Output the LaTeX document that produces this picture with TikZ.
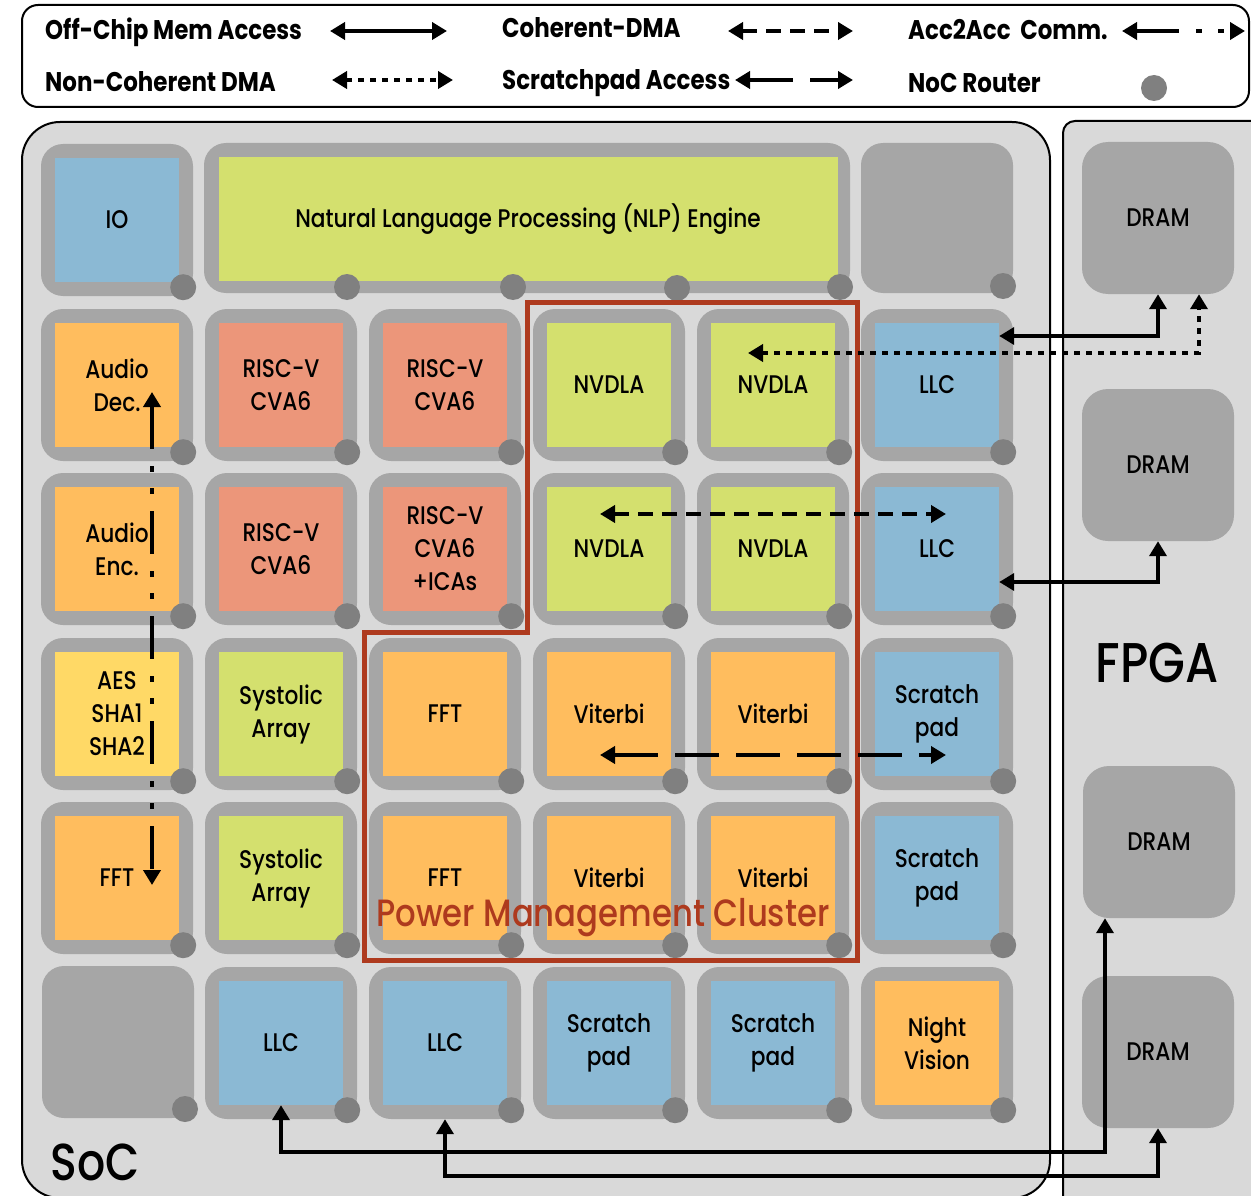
\documentclass[tikz,border=0pt]{standalone}
\usepackage{fontspec}
\setmainfont{Poppins}[FakeStretch=0.85, UprightFont=* Medium, BoldFont=* Bold]
\usetikzlibrary{arrows.meta,calc}
\definecolor{bg}{HTML}{D9D9D9}
\definecolor{tilegray}{HTML}{A6A6A6}
\definecolor{routergray}{HTML}{808080}
\definecolor{cblue}{HTML}{8BB9D4}
\definecolor{cgreen}{HTML}{D4E06E}
\definecolor{corange}{HTML}{FFBD5E}
\definecolor{csalmon}{HTML}{EC967A}
\definecolor{cyellow}{HTML}{FFD966}
\definecolor{cred}{HTML}{AE3A1E}
\newcommand{\tilefont}{\fontsize{25.5}{33}\selectfont}
\newcommand{\legendfont}{\fontsize{27}{30}\selectfont\bfseries}
\newcommand{\socfont}{\fontsize{52}{60}\selectfont}
\newcommand{\fpgafont}{\fontsize{56}{60}\selectfont}
\newcommand{\pmfont}{\fontsize{38}{42}\selectfont}
\tikzset{
 outer/.style={fill=tilegray, rounded corners=22pt, minimum width=152pt, minimum height=152pt, inner sep=0pt},
 inner/.style={minimum width=124pt, minimum height=124pt, inner sep=0pt, align=center, font=\tilefont},
 router/.style={circle, fill=routergray, minimum size=26pt, inner sep=0pt},
 dram/.style={fill=tilegray, rounded corners=26pt, minimum width=152pt, minimum height=152pt, inner sep=0pt, font=\tilefont},
 conn/.style={line width=4.5pt, {Triangle[length=15pt,width=17pt]}-{Triangle[length=15pt,width=17pt]}},
 offchip/.style={conn},
 ncdma/.style={conn, dash pattern=on 6pt off 6pt},
 cdma/.style={conn, dash pattern=on 15pt off 9pt},
 spad/.style={conn, dash pattern=on 44pt off 17pt},
 acc/.style={conn, dash pattern=on 43pt off 17pt on 6pt off 16pt on 6pt off 17pt},
 legend/.style={font=\legendfont, anchor=base west, inner sep=0pt},
 box/.style={draw=black, line width=2pt},
}
\newcommand{\mktile}[5]{%
 \node[outer] (#1o) at (#2,#3) {};
 \node[inner, fill=#4] (#1) at (#2,#3) {#5};
 \node[router] (#1r) at ([xshift=-10pt,yshift=9pt]#1o.south east) {};
}
\begin{document}
\begin{tikzpicture}[x=1pt,y=-1pt]
\useasboundingbox (0,0) rectangle (1251,1196);
\clip (0,0) rectangle (1251,1196);
\fill[white] (0,0) rectangle (1251,1196);

% legend
\draw[box, rounded corners=16pt] (22,5) rectangle (1249,107);
\node[legend] (l1) at (45,40) {Off-Chip Mem Access};
\node[legend] (l2) at (502,38) {Coherent-DMA};
\node[legend] (l3) at (908,40) {Acc2Acc\ \ Comm.};
\node[legend] (l4) at (45,92) {Non-Coherent DMA};
\node[legend] (l5) at (502,90) {Scratchpad Access};
\node[legend] (l6) at (908,93) {NoC Router};
\coordinate (a1s) at (330,31); \coordinate (a1e) at (447,31);
\coordinate (a2s) at (728,31); \coordinate (a2e) at (853,31);
\coordinate (a3s) at (1122,31); \coordinate (a3e) at (1245,31);
\coordinate (a4s) at (332,80); \coordinate (a4e) at (453,80);
\coordinate (a5s) at (735,80); \coordinate (a5e) at (853,80);
\draw[offchip] (a1s) -- (a1e);
\draw[cdma] (a2s) -- (a2e);
\draw[acc] (a3s) -- (a3e);
\draw[ncdma] (a4s) -- (a4e);
\draw[spad] (a5s) -- (a5e);
\node[router] (lr) at (1154,88) {};

% boxes
\draw[box, fill=bg, rounded corners=38pt] (22,122) rectangle (1050,1198);
\draw[box, fill=bg, rounded corners=12pt] (1063,121) rectangle (1280,1220);

% row 1
\mktile{io}{117}{220}{cblue}{IO}
\node[outer, minimum width=646pt, minimum height=150pt] (nlpo) at (527,218) {};
\node[inner, fill=cgreen, minimum width=619pt] (nlp) at (528,219) {Natural Language Processing (NLP) Engine};
\node[router] (nlpr1) at (347,287) {};
\node[router] (nlpr2) at (513,287) {};
\node[router] (nlpr3) at (677,288) {};
\node[router] (nlpr4) at (840,287) {};
\node[outer, minimum height=150pt] (e16o) at (937,218) {};
\node[router] (e16r) at (1003,286) {};

% row 2
\mktile{ad}{117}{385}{corange}{Audio\\Dec.}
\mktile{rv22}{281}{385}{csalmon}{RISC-V\\CVA6}
\mktile{rv23}{445}{385}{csalmon}{RISC-V\\CVA6}
\mktile{nv24}{609}{385}{cgreen}{NVDLA}
\mktile{nv25}{773}{385}{cgreen}{NVDLA}
\mktile{llc2}{937}{385}{cblue}{LLC}

% row 3
\mktile{ae}{117}{549}{corange}{Audio\\Enc.}
\mktile{rv32}{281}{549}{csalmon}{RISC-V\\CVA6}
\mktile{rv33}{445}{549}{csalmon}{RISC-V\\CVA6\\+ICAs}
\mktile{nv34}{609}{549}{cgreen}{NVDLA}
\mktile{nv35}{773}{549}{cgreen}{NVDLA}
\mktile{llc3}{937}{549}{cblue}{LLC}

% row 4
\mktile{aes}{117}{714}{cyellow}{AES\\SHA1\\SHA2}
\mktile{sa42}{281}{714}{cgreen}{Systolic\\Array}
\mktile{fft43}{445}{714}{corange}{FFT}
\mktile{vit44}{609}{714}{corange}{Viterbi}
\mktile{vit45}{773}{714}{corange}{Viterbi}
\mktile{sp46}{937}{714}{cblue}{Scratch\\pad}

% row 5
\mktile{fft51}{117}{878}{corange}{FFT}
\mktile{sa52}{281}{878}{cgreen}{Systolic\\Array}
\mktile{fft53}{445}{878}{corange}{FFT}
\mktile{vit54}{609}{878}{corange}{Viterbi}
\mktile{vit55}{773}{878}{corange}{Viterbi}
\mktile{sp56}{937}{878}{cblue}{Scratch\\pad}

% row 6
\node[outer] (e61o) at (118,1042) {};
\node[router] (e61r) at (185,1109) {};
\mktile{llc62}{281}{1043}{cblue}{LLC}
\mktile{llc63}{445}{1043}{cblue}{LLC}
\mktile{sp64}{609}{1043}{cblue}{Scratch\\pad}
\mktile{sp65}{773}{1043}{cblue}{Scratch\\pad}
\mktile{nv66}{937}{1043}{corange}{Night\\Vision}

% DRAMs
\node[dram] (dram1) at (1158,218) {DRAM};
\node[dram] (dram2) at (1158,465) {DRAM};
\node[dram] (dram3) at (1159,842) {DRAM};
\node[dram] (dram4) at (1158,1052) {DRAM};

% power management cluster
\draw[cred, line width=5pt] (527,302) -- (857,302) -- (857,960) -- (364,960) -- (364,632) -- (527,632) -- cycle;

% connectors
\draw[offchip] ([yshift=49pt]llc2.east) -| (dram1.south);
\draw[ncdma] ([xshift=-25pt,yshift=32pt]nv25.center) -| ([xshift=41pt]dram1.south);
\draw[offchip] ([yshift=-33pt]llc3.east) -| (dram2.south);
\draw[offchip] (llc62.south) -- ++(0,47) -| ([xshift=-54pt]dram3.south);
\draw[offchip] (llc63o.south) -- ++(0,57) -| (dram4.south);
\draw[cdma] ([xshift=-9pt,yshift=35pt]nv34.center) -- ([xshift=9pt,yshift=35pt]llc3.center);
\draw[spad] ([xshift=-9pt,yshift=-41pt]vit44.center) -- ([xshift=9pt,yshift=-41pt]sp46.center);
\draw[acc] ([xshift=35pt,yshift=-7pt]ad.center) -- ([xshift=35pt,yshift=-7pt]fft51.center);

% labels
\node[text=cred, font=\pmfont, inner sep=0pt] (pmc) at (603,918) {Power Management Cluster};
\node[font=\socfont, inner sep=0pt] (soc) at (95,1162) {SoC};
\node[font=\fpgafont, inner sep=0pt] (fpga) at (1157,663) {FPGA};
\end{tikzpicture}
\end{document}
